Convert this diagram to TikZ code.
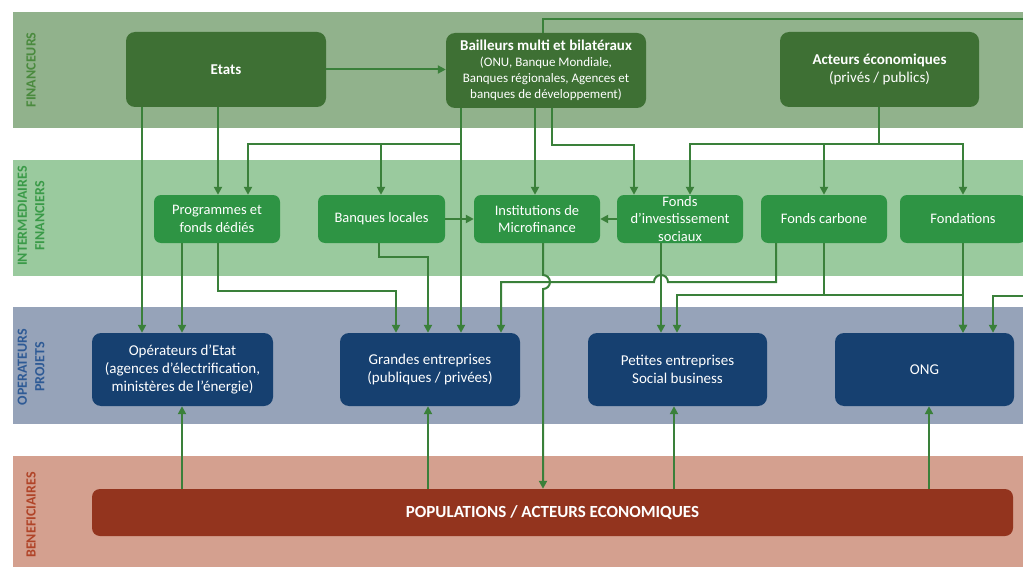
\documentclass[tikz,border=0pt]{standalone}
\usepackage{fontspec}
\setmainfont{Carlito}
\usetikzlibrary{arrows.meta}
\definecolor{bandA}{HTML}{91B28C}
\definecolor{bandB}{HTML}{9ACA9E}
\definecolor{bandC}{HTML}{96A3B9}
\definecolor{bandD}{HTML}{D4A08F}
\definecolor{dkgreen}{HTML}{3E7034}
\definecolor{mdgreen}{HTML}{2E9444}
\definecolor{dkblue}{HTML}{164070}
\definecolor{popred}{HTML}{93341E}
\definecolor{linecol}{HTML}{3A803A}
\definecolor{labA}{HTML}{4A8A3E}
\definecolor{labB}{HTML}{3A9A48}
\definecolor{labC}{HTML}{2E5A95}
\definecolor{labD}{HTML}{B04428}
\tikzset{
  box/.style={rectangle, rounded corners=9pt, inner sep=0pt, text=white, align=center},
  finbox/.style={box, fill=dkgreen, minimum width=200pt, minimum height=75pt, font=\fontsize{15}{18}\selectfont},
  intbox/.style={box, fill=mdgreen, rounded corners=7pt, minimum width=126pt, minimum height=48pt, font=\fontsize{14.5}{17.5}\selectfont},
  opbox/.style={box, fill=dkblue, minimum width=180pt, minimum height=73pt, font=\fontsize{15}{18.3}\selectfont},
  bandlab/.style={rotate=90, align=center, inner sep=0pt, font=\bfseries\fontsize{14}{17.5}\selectfont},
  conn/.style={draw=linecol, line width=2pt},
  arr/.style={conn, -{Triangle[width=8pt,length=8pt]}}
}
\begin{document}
\begin{tikzpicture}[x=1pt,y=-1pt]
\useasboundingbox (0,0) rectangle (1023,567);
\clip (0,0) rectangle (1023,567);
% bands
\fill[bandA] (13,12) rectangle (1040,128);
\fill[bandB] (13,160) rectangle (1040,276);
\fill[bandC] (13,307) rectangle (1040,424);
\fill[bandD] (13,456) rectangle (1040,580);
\node[bandlab, text=labA] (lA) at (31,70) {FINANCEURS};
\node[bandlab, text=labB] (lB) at (31,216) {INTERMEDIAIRES\\FINANCIERS};
\node[bandlab, text=labC] (lC) at (31,367) {OPERATEURS\\PROJETS};
\node[bandlab, text=labD] (lD) at (31,515) {BENEFICIAIRES};
% financeurs
\node[finbox] (etats) at (226,69.5) {\textbf{Etats}};
\node[finbox, font=\fontsize{13}{16}\selectfont] (bail) at (546,70.5) {{\bfseries\fontsize{15}{16}\selectfont Bailleurs multi et bilatéraux}\\(ONU, Banque Mondiale,\\Banques régionales, Agences et\\banques de développement)};
\node[finbox, minimum width=199pt] (act) at (879.5,69.5) {\textbf{Acteurs économiques}\\(privés / publics)};
% intermediaires
\node[intbox] (prog) at (217,219) {Programmes et\\fonds dédiés};
\node[intbox, minimum width=127pt] (banq) at (381.5,219) {Banques locales};
\node[intbox] (imf) at (537,219) {Institutions de\\Microfinance};
\node[intbox] (fis) at (680,219) {Fonds\\d’investissement\\sociaux};
\node[intbox] (carb) at (824,219) {Fonds carbone};
\node[intbox] (fond) at (963,219) {Fondations};
% operateurs
\node[opbox, minimum width=181pt] (opet) at (182.5,369.5) {Opérateurs d’Etat\\(agences d’électrification,\\ministères de l’énergie)};
\node[opbox] (grandes) at (430,369.5) {Grandes entreprises\\(publiques / privées)};
\node[opbox, minimum width=179pt] (pet) at (677.5,369.5) {Petites entreprises\\Social business};
\node[opbox, minimum width=179pt] (ong) at (924.5,369.5) {ONG};
% beneficiaires
\node[box, fill=popred, rounded corners=8pt, minimum width=921pt, minimum height=47pt, font=\bfseries\fontsize{17}{20}\selectfont] (pop) at (552.5,512.5) {POPULATIONS / ACTEURS ECONOMIQUES};
% connectors from financeurs
\draw[arr] (etats.east) -- (bail.west |- etats.east);
\draw[arr] (142,0 |- etats.south) -- (142,0 |- opet.north);
\draw[arr] (218,0 |- etats.south) -- (218,0 |- prog.north);
\draw[arr] (461,0 |- bail.south) -- (461,0 |- grandes.north);
\draw[arr] (461,0 |- bail.south) |- (248,144) -- (248,0 |- prog.north);
\draw[arr] (461,0 |- bail.south) |- (381,144) -- (381,0 |- banq.north);
\draw[arr] (535,0 |- bail.south) -- (535,0 |- imf.north);
\draw[arr] (552,0 |- bail.south) |- (634,145) -- (634,0 |- fis.north);
\draw[arr] (543,0 |- bail.north) |- (1035,19) |- (993,296) -- (993,0 |- ong.north);
\draw[arr] (879,0 |- act.south) |- (690,144) -- (690,0 |- fis.north);
\draw[arr] (879,0 |- act.south) |- (824,144) -- (824,0 |- carb.north);
\draw[arr] (879,0 |- act.south) |- (963,144) -- (963,0 |- fond.north);
% within intermediaires
\draw[arr] (banq.east) -- (imf.west);
\draw[arr] (fis.west) -- (imf.east);
% intermediaires to operateurs
\draw[arr] (182,0 |- prog.south) -- (182,0 |- opet.north);
\draw[arr] (218,0 |- prog.south) |- (396,291) -- (396,0 |- grandes.north);
\draw[arr] (379,0 |- banq.south) |- (428,257) -- (428,0 |- grandes.north);
\draw[arr] (543,0 |- imf.south) -- (543,275) arc[start angle=-90, end angle=90, radius=7] -- (543,0 |- pop.north);
\draw[arr] (776,0 |- carb.south) -- (776,282) -- (668,282) arc[start angle=0, end angle=-180, radius=7] -- (501,282) -- (501,0 |- grandes.north);
\draw[arr] (661,0 |- fis.south) -- (661,0 |- pet.north);
\draw[arr] (824,0 |- carb.south) |- (677,295) -- (677,0 |- pet.north);
\draw[arr] (824,0 |- carb.south) |- (963,295) -- (963,0 |- ong.north);
\draw[arr] (963,0 |- fond.south) -- (963,0 |- ong.north);
% beneficiaires up
\draw[arr] (182,0 |- pop.north) -- (182,0 |- opet.south);
\draw[arr] (428,0 |- pop.north) -- (428,0 |- grandes.south);
\draw[arr] (674,0 |- pop.north) -- (674,0 |- pet.south);
\draw[arr] (929,0 |- pop.north) -- (929,0 |- ong.south);
\end{tikzpicture}
\end{document}
